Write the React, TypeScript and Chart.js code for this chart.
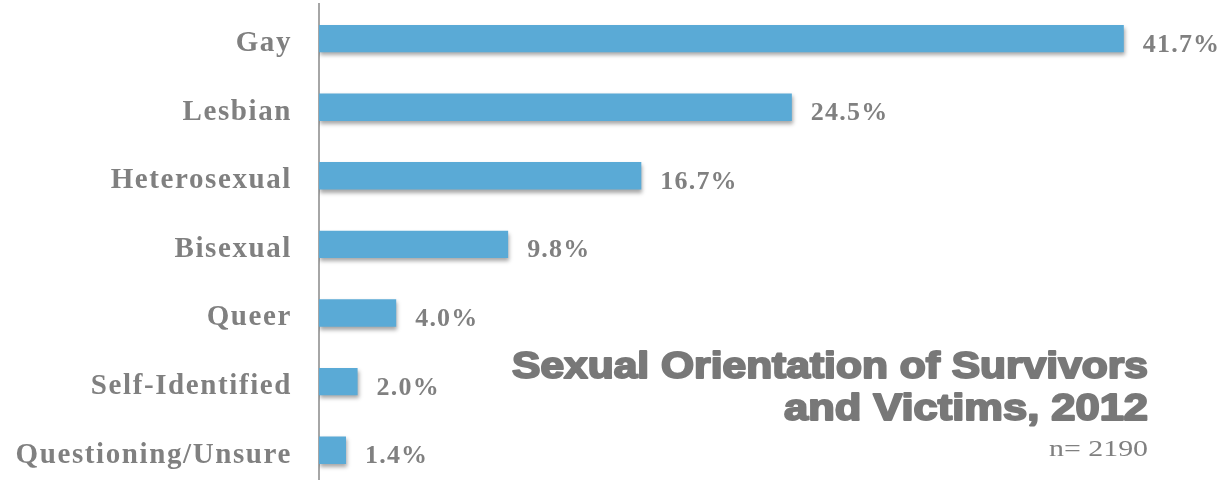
import React, { useEffect, useRef } from 'react';
import { Chart, registerables } from 'chart.js';

Chart.register(...registerables);

const categories = ['Gay', 'Lesbian', 'Heterosexual', 'Bisexual', 'Queer', 'Self-Identified', 'Questioning/Unsure'];
const percentages = [41.7, 24.5, 16.7, 9.8, 4.0, 2.0, 1.4];
const titleLines = ['Sexual Orientation of Survivors', 'and Victims, 2012'];
const sampleNote = 'n= 2190';

const BAR_COLOR = '#5aaad6';
const LABEL_COLOR = '#808080';
const TITLE_COLOR = '#787878';
const SERIF = "'Liberation Serif', 'Times New Roman', serif";

export default function App() {
  const ref = useRef<HTMLCanvasElement>(null);

  useEffect(() => {
    if (!ref.current) return;

    const spacingPlugin = {
      id: 'letterSpacing',
      beforeDraw(chart: any) {
        chart.ctx.letterSpacing = '1.6px';
      },
    };

    const shadowPlugin = {
      id: 'barShadow',
      beforeDatasetDraw(chart: any) {
        const c = chart.ctx;
        c.save();
        c.shadowColor = 'rgba(0,0,0,0.35)';
        c.shadowOffsetX = 1;
        c.shadowOffsetY = 3;
        c.shadowBlur = 4;
      },
      afterDatasetDraw(chart: any) {
        chart.ctx.restore();
      },
    };

    const valueLabelPlugin = {
      id: 'valueLabels',
      afterDatasetsDraw(chart: any) {
        const c = chart.ctx;
        const meta = chart.getDatasetMeta(0);
        c.save();
        c.letterSpacing = '1.2px';
        c.font = `bold 26px ${SERIF}`;
        c.fillStyle = LABEL_COLOR;
        c.textAlign = 'left';
        c.textBaseline = 'alphabetic';
        meta.data.forEach((bar: any, i: number) => {
          c.fillText(percentages[i].toFixed(1) + '%', bar.x + 19, bar.y + 13);
        });
        c.restore();
      },
    };

    const titlePlugin = {
      id: 'cornerTitle',
      afterDraw(chart: any) {
        const c = chart.ctx;
        const right = 1148;
        c.save();
        c.letterSpacing = '0px';
        c.fillStyle = TITLE_COLOR;
        c.strokeStyle = TITLE_COLOR;
        c.lineWidth = 2;
        c.lineJoin = 'round';
        c.textAlign = 'left';
        c.textBaseline = 'alphabetic';
        c.font = "bold 36px 'Liberation Sans', Arial, sans-serif";
        const lines = [
          { text: titleLines[0], width: 636, y: 378 },
          { text: titleLines[1], width: 364, y: 420 },
        ];
        lines.forEach((l) => {
          const w = c.measureText(l.text).width;
          c.save();
          c.translate(right - l.width, l.y);
          c.scale(l.width / w, 1);
          c.fillText(l.text, 0, 0);
          c.strokeText(l.text, 0, 0);
          c.restore();
        });
        c.font = `24px ${SERIF}`;
        c.fillStyle = LABEL_COLOR;
        const nw = c.measureText(sampleNote).width;
        const target = 99;
        c.save();
        c.translate(right - target, 456);
        c.scale(target / nw, 1);
        c.fillText(sampleNote, 0, 0);
        c.restore();
        c.restore();
      },
    };

    const chart = new Chart(ref.current, {
      type: 'bar',
      data: {
        labels: categories,
        datasets: [
          {
            data: percentages,
            backgroundColor: BAR_COLOR,
            borderWidth: 0,
            categoryPercentage: 1,
            barPercentage: 0.4,
          },
        ],
      },
      options: {
        indexAxis: 'y',
        animation: false,
        responsive: true,
        maintainAspectRatio: false,
        layout: { padding: { top: 4.3, bottom: 5.5, right: 21.2, left: 0 } },
        plugins: {
          legend: { display: false },
          tooltip: { enabled: false },
          title: { display: false },
        },
        scales: {
          x: { type: 'linear', min: 0, max: 46, display: false },
          y: {
            type: 'category',
            position: 'left',
            grid: { display: false, drawTicks: false },
            border: { display: true, color: '#a6a6a6', width: 2 },
            ticks: {
              color: LABEL_COLOR,
              font: { family: SERIF, size: 29, weight: 'bold' },
              padding: 27,
              labelOffset: 5,
            },
            afterFit(scale: any) {
              scale.width = 319;
              scale.paddingTop = 0;
              scale.paddingBottom = 0;
            },
          },
        },
      },
      plugins: [spacingPlugin, shadowPlugin, valueLabelPlugin, titlePlugin],
    });

    return () => chart.destroy();
  }, []);

  return (
    <div style={{ position: 'fixed', left: 0, top: 0, width: 1228, height: 490, background: '#ffffff' }}>
      <canvas ref={ref} style={{ display: 'block' }} />
    </div>
  );
}
